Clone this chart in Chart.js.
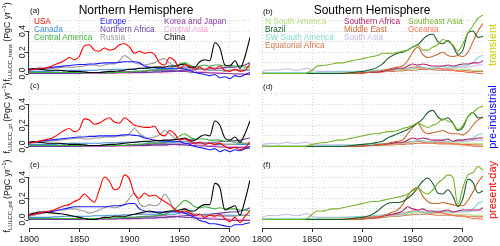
<!DOCTYPE html>
<html lang="en">
<head>
<meta charset="UTF-8" />
<title>LULCC emissions by region</title>
<script src="https://cdn.jsdelivr.net/npm/chart.js"></script>
<style>
  body { margin: 0; width: 500px; height: 246px; position: relative; overflow: hidden; background: #fff; font-family: "Liberation Sans", Arial, sans-serif; color: #000; }
  canvas { position: absolute; }
  .txt { position: absolute; white-space: nowrap; line-height: 1; transform: translate(-50%, -50%); }
  .leg { position: absolute; white-space: nowrap; font-size: 8.2px; line-height: 1; transform: translateY(-50%); }
  .rot { position: absolute; white-space: nowrap; line-height: 1; transform: translate(-50%, -50%) rotate(-90deg); }
  .ytitle { font-size: 8.8px; color: #111; }
  .ytitle sub { font-size: 5.8px; vertical-align: -2px; }
  .ytitle sup { font-size: 5.8px; vertical-align: 4px; }
  .plab { position: absolute; font-size: 8px; line-height: 1; transform: translateY(-50%); color: #111; }
</style>
</head>
<body>
<canvas id="ca" width="252" height="84" style="left:0;top:0"></canvas>
<canvas id="cb" width="248" height="84" style="left:252px;top:0"></canvas>
<canvas id="cc" width="252" height="73" style="left:0;top:84px"></canvas>
<canvas id="cd" width="248" height="73" style="left:252px;top:84px"></canvas>
<canvas id="ce" width="252" height="89" style="left:0;top:157px"></canvas>
<canvas id="cf" width="248" height="89" style="left:252px;top:157px"></canvas>

<div class="txt" style="left:136px;top:10px;font-size:12px">Northern Hemisphere</div>
<div class="txt" style="left:372px;top:10px;font-size:12px">Southern Hemisphere</div>

<div class="plab" style="left:30px;top:11px">(a)</div>
<div class="plab" style="left:263px;top:12px">(b)</div>
<div class="plab" style="left:30px;top:86px">(c)</div>
<div class="plab" style="left:263px;top:87px">(d)</div>
<div class="plab" style="left:30px;top:165px">(e)</div>
<div class="plab" style="left:263px;top:165px">(f)</div>

<!-- legend, northern -->
<div class="leg" style="left:34px;top:22px;color:#ff0000">USA</div>
<div class="leg" style="left:34px;top:30px;color:#3f8fd2">Canada</div>
<div class="leg" style="left:34px;top:38px;color:#3fae3f">Central America</div>
<div class="leg" style="left:100px;top:22px;color:#1a1aff">Europe</div>
<div class="leg" style="left:100px;top:30px;color:#6a3c9c">Northern Africa</div>
<div class="leg" style="left:100px;top:38px;color:#9a9a9a">Russia</div>
<div class="leg" style="left:164px;top:22px;color:#8c3aa0">Korea and Japan</div>
<div class="leg" style="left:164px;top:30px;color:#f29fd8">Central Asia</div>
<div class="leg" style="left:164px;top:38px;color:#000000">China</div>
<!-- legend, southern -->
<div class="leg" style="left:265px;top:22px;color:#b3de7d">N South America</div>
<div class="leg" style="left:265px;top:30px;color:#1e5e2c">Brazil</div>
<div class="leg" style="left:265px;top:38px;color:#84d8cc">SW South America</div>
<div class="leg" style="left:265px;top:46px;color:#cf7852">Equatorial Africa</div>
<div class="leg" style="left:344px;top:22px;color:#b3206a">Southern Africa</div>
<div class="leg" style="left:344px;top:30px;color:#c8672f">Middle East</div>
<div class="leg" style="left:344px;top:38px;color:#c8b6e6">South Asia</div>
<div class="leg" style="left:408px;top:22px;color:#78b32e">Southeast Asia</div>
<div class="leg" style="left:408px;top:30px;color:#ff7552">Oceania</div>

<!-- y titles -->
<div class="rot ytitle" style="left:8px;top:42px">f<sub>LULCC_trans</sub> (PgC yr<sup>−1</sup>)</div>
<div class="rot ytitle" style="left:8px;top:118px">f<sub>LULCC_pi</sub> (PgC yr<sup>−1</sup>)</div>
<div class="rot ytitle" style="left:8px;top:196px">f<sub>LULCC_pd</sub> (PgC yr<sup>−1</sup>)</div>

<!-- side labels -->
<div class="rot" style="left:492px;top:45px;font-size:11px;color:#cdcd00">transient</div>
<div class="rot" style="left:492px;top:117px;font-size:11px;color:#0000ff">pre-industrial</div>
<div class="rot" style="left:492px;top:190px;font-size:11px;color:#ff0000">present-day</div>

<script>
// years of the samples
const years = [1800,1805,1810,1815,1820,1825,1830,1835,1840,1845,1850,1855,1860,1865,1870,1875,1880,1885,1890,1895,1900,1905,1910,1915,1920,1925,1930,1935,1940,1945,1950,1955,1960,1965,1970,1975,1980,1985,1990,1995,2000,2005,2010,2015,2020];

// Northern Hemisphere (a: transient, c: pre-industrial, e: present-day)
const usaA = [.03,.04,.05,.05,.06, .08,.10,.12,.15,.13, .16,.26,.27,.22,.21, .24,.22,.23,.27,.28, .25,.19,.21,.19,.20, .18,.10,.08,.15,.12, .05,.08,.07,.04,.06, .03,.06,.04,.07,.03, .02,.04,.02,.03,.09];
const usaC = [.03,.04,.05,.06,.07, .09,.12,.15,.17,.14, .16,.26,.25,.21,.22, .25,.27,.23,.22,.27, .24,.20,.19,.18,.18, .19,.12,.10,.15,.12, .06,.07,.05,.03,.04, .02,.03,.02,.03,.00, -.02,-.01,-.03,-.01,.04];
const usaE = [.04,.05,.06,.07,.08, .09,.11,.13,.14,.17, .19,.24,.20,.16,.28, .40,.36,.28,.30,.42, .38,.24,.20,.25,.22, .23,.20,.17,.14,.10, .07,.08,.06,.04,.05, .02,.04,.03,.05,.01, -.02,.02,-.03,.03,.08];

const eurA = [.04,.045,.05,.05,.055, .06,.065,.07,.075,.08, .085,.085,.09,.09,.095, .10,.10,.10,.105,.11, .11,.11,.10,.07,.06, .055,.05,.05,.05,.05, .05,.04,.03,.01,0, -.01,-.02,-.01,-.04,-.03, -.05,-.02,-.03,-.01,.01];
const eurC = [.04,.045,.05,.055,.06, .065,.07,.075,.08,.085, .09,.09,.095,.095,.10, .10,.10,.10,.105,.11, .11,.105,.10,.08,.07, .06,.055,.05,.05,.05, .045,.03,.02,0,-.01, -.02,-.03,-.02,-.05,-.03, -.05,-.03,-.04,-.02,0];
const eurE = [.04,.05,.06,.065,.07, .08,.09,.10,.11,.12, .12,.12,.12,.12,.12, .12,.125,.13,.13,.14, .15,.15,.10,.08,.07, .07,.07,.07,.07,.07, .07,.06,.04,.02,-.01, -.02,-.04,-.04,-.05,-.06, -.07,-.05,-.05,-.04,-.03];

const rusA = [.03,.035,.04,.04,.045, .05,.055,.06,.06,.06, .065,.07,.08,.08,.07, .08,.09,.09,.12,.17, .14,.10,.09,.08,.09, .10,.13,.14,.10,.07, .06,.05,.05,.04,.04, .04,.03,.03,.03,.02, .03,.03,.04,.04,.04];
const rusC = [.03,.035,.04,.045,.05, .055,.06,.065,.07,.075, .08,.07,.07,.08,.08, .09,.09,.09,.10,.10, .12,.17,.12,.09,.08, .09,.11,.15,.12,.08, .06,.07,.05,.04,.04, .04,.03,.03,.03,.02, .02,.02,.03,.03,.03];
const rusE = [.03,.04,.05,.06,.07, .08,.09,.09,.10,.10, .09,.08,.06,.07,.09, .11,.12,.11,.12,.14, .20,.25,.15,.12,.14, .13,.15,.24,.18,.08, .07,.10,.08,.05,.05, .04,.04,.04,.03,.03, .03,.03,.04,.04,.04];

const chnA = [.04,.045,.04,.035,.03, .03,.03,.025,.02,.02, .02,.015,.01,.01,.01, .015,.02,.02,.025,.03, .04,.04,.05,.05,.055, .06,.06,.06,.07,.07, .08,.09,.06,.06,.11, .13,.12,.29,.24,.08, .07,.12,.05,.16,.34];
const chnC = [.04,.045,.04,.035,.03, .03,.03,.025,.02,.02, .02,.015,.01,.01,.01, .015,.02,.02,.025,.03, .035,.04,.045,.05,.05, .055,.055,.06,.06,.065, .07,.08,.06,.06,.09, .11,.10,.24,.20,.08, .06,.09,.04,.12,.24];
const chnE = [.05,.06,.07,.07,.065, .06,.055,.05,.04,.03, .02,.01,0,0,.01, .02,.02,.03,.03,.03, .04,.05,.06,.07,.08, .07,.06,.07,.08,.08, .09,.10,.08,.08,.12, .14,.14,.34,.30,.09, .11,.13,.04,.18,.37];

const camA = [.01,.01,.01,.01,.01, .01,.01,.01,.01,.01, .01,.01,.01,.01,.01, .01,.01,.01,.01,.01, .015,.02,.02,.025,.03, .03,.035,.04,.05,.07, .09,.10,.08,.06,.07, .08,.07,.08,.08,.07, .08,.07,.07,.06,.06];
const camC = [.01,.01,.01,.01,.01, .01,.01,.01,.01,.01, .01,.01,.01,.01,.01, .01,.01,.01,.01,.01, .015,.02,.02,.025,.03, .03,.035,.04,.05,.07, .10,.12,.09,.07,.07, .07,.06,.06,.06,.05, .05,.04,.04,.03,.03];
const camE = [.01,.01,.01,.01,.01, .01,.01,.01,.01,.01, .01,.01,.01,.01,.01, .01,.01,.015,.015,.02, .02,.02,.025,.03,.03, .035,.04,.05,.07,.10, .14,.18,.16,.12,.11, .12,.11,.10,.11,.10, .10,.10,.09,.09,.08];

const canA = [.02,.02,.02,.02,.02, .025,.025,.03,.03,.03, .03,.03,.03,.03,.035, .035,.035,.04,.04,.04, .04,.045,.05,.05,.045, .04,.04,.04,.04,.04, .05,.06,.06,.05,.04, .04,.03,.03,.03,.03, .03,.03,.03,.03,.03];
const canC = [.02,.02,.02,.02,.02, .02,.025,.025,.03,.03, .03,.03,.03,.03,.03, .035,.035,.035,.04,.04, .04,.04,.045,.045,.04, .04,.04,.035,.035,.04, .045,.05,.05,.04,.03, .03,.03,.02,.02,.02, .02,.02,.02,.02,.02];
const canE = [.02,.02,.02,.02,.02, .025,.025,.03,.03,.03, .03,.03,.03,.035,.035, .035,.04,.04,.04,.045, .045,.05,.05,.05,.05, .05,.05,.05,.05,.05, .06,.07,.06,.05,.05, .04,.04,.04,.04,.04, .04,.04,.04,.04,.04];

const nafA = [0,0,0,0,0, 0,0,0,0,0, 0,.005,.005,.005,.005, .005,.005,.005,.01,.01, .01,.01,.01,.01,.01, .015,.015,.02,.02,.02, .025,.03,.03,.035,.04, .04,.045,.05,.05,.055, .06,.06,.07,.08,.10];
const nafC = [0,0,0,0,0, 0,0,0,0,0, 0,.005,.005,.005,.005, .005,.005,.005,.01,.01, .01,.01,.01,.01,.01, .015,.015,.015,.02,.02, .02,.025,.03,.03,.035, .035,.04,.04,.045,.05, .05,.055,.06,.07,.08];
const nafE = [0,0,0,0,0, 0,0,0,0,0, 0,.005,.005,.005,.005, .005,.005,.005,.01,.01, .01,.01,.01,.015,.015, .015,.02,.02,.025,.025, .03,.035,.04,.04,.045, .05,.05,.055,.06,.065, .07,.07,.08,.09,.11];

const kjpA = [.01,.01,.01,.01,.01, .01,.01,.01,.01,.01, .01,.01,.01,.01,.01, .01,.01,.01,.015,.015, .015,.02,.02,.02,.025, .025,.03,.03,.03,.025, .02,.02,.015,.01,.01, .01,.005,.005,0,0, 0,-.005,-.005,-.01,-.01];
const kjpC = [.01,.01,.01,.01,.01, .01,.01,.01,.01,.01, .01,.01,.01,.01,.01, .01,.01,.01,.012,.012, .015,.015,.02,.02,.02, .025,.025,.025,.02,.02, .015,.015,.01,.01,.005, .005,0,0,-.005,-.005, -.01,-.01,-.01,-.015,-.015];
const kjpE = [.01,.01,.01,.01,.01, .01,.01,.01,.01,.01, .01,.01,.01,.01,.01, .01,.01,.01,.015,.015, .02,.02,.025,.025,.03, .03,.035,.035,.03,.03, .025,.02,.02,.015,.01, .01,.005,.005,0,0, -.005,-.01,-.01,-.01,-.01];

const casA = [0,0,0,0,0, 0,0,0,0,0, 0,0,0,0,0, 0,0,0,0,0, 0,.005,.005,.005,.01, .01,.01,.01,.015,.02, .03,.05,.04,.02,.015, .015,.01,.01,.01,.005, 0,0,0,0,0];
const casC = [0,0,0,0,0, 0,0,0,0,0, 0,0,0,0,0, 0,0,0,0,0, 0,.005,.005,.005,.01, .01,.01,.01,.015,.02, .03,.045,.035,.02,.015, .01,.01,.01,.005,.005, 0,0,0,0,0];
const casE = [0,0,0,0,0, 0,0,0,0,0, 0,0,0,0,0, 0,0,0,0,0, 0,.005,.005,.01,.01, .01,.015,.015,.02,.025, .04,.06,.05,.03,.02, .02,.015,.015,.01,.01, .005,.005,0,0,0];

// Southern Hemisphere (b: transient, d: pre-industrial, f: present-day)
const seaB = [0,0,0,0,0, 0,0,0,0,.005, .03,.07,.075,.08,.09, .10,.10,.11,.12,.13, .14,.15,.16,.17,.19, .19,.19,.20,.21,.22, .25,.27,.22,.22,.25, .27,.32,.30,.27,.21, .28,.38,.45,.52,.55];
const seaD = [0,0,0,0,0, 0,0,0,0,.005, .02,.03,.035,.04,.05, .06,.06,.07,.08,.09, .10,.11,.12,.12,.13, .14,.14,.15,.17,.18, .20,.22,.20,.18,.20, .22,.26,.24,.22,.16, .20,.28,.32,.36,.38];
const seaF = [0,0,0,0,0, 0,0,0,0,.01, .05,.08,.08,.09,.10, .10,.11,.12,.13,.14, .15,.16,.17,.17,.18, .19,.20,.21,.22,.24, .27,.30,.26,.24,.28, .34,.38,.42,.40,.14, .30,.42,.44,.50,.46];

const brzB = [0,0,0,0,0, 0,0,0,0,0, 0,0,0,0,0, 0,0,.005,.01,.015, .02,.03,.04,.06,.09, .14,.17,.19,.20,.22, .25,.27,.32,.36,.37, .30,.28,.31,.26,.18, .22,.38,.40,.34,.35];
const brzD = [0,0,0,0,0, 0,0,0,0,0, 0,0,0,0,0, 0,0,.005,.01,.015, .02,.025,.03,.04,.05, .08,.10,.12,.14,.16, .19,.22,.26,.32,.34, .28,.25,.27,.22,.15, .18,.28,.32,.27,.27];
const brzF = [0,0,0,0,0, 0,0,0,0,0, 0,0,0,0,0, 0,0,.005,.01,.015, .02,.03,.05,.08,.12, .15,.16,.16,.17,.20, .24,.30,.36,.39,.34, .25,.24,.28,.22,.12, .20,.38,.35,.25,.27];

const mesB = [0,0,0,0,0, 0,0,0,0,0, 0,0,0,0,0, 0,0,0,0,0, .005,.01,.015,.02,.03, .04,.05,.06,.07,.12, .20,.25,.18,.15,.16, .18,.20,.17,.16,.17, .16,.20,.30,.40,.47];
const mesD = [0,0,0,0,0, 0,0,0,0,0, 0,0,0,0,0, 0,0,0,0,0, .005,.01,.01,.015,.02, .03,.04,.05,.06,.12, .18,.22,.15,.12,.13, .14,.15,.13,.12,.12, .11,.14,.20,.25,.28];
const mesF = [0,0,0,0,0, 0,0,0,0,0, 0,0,0,0,0, 0,0,0,0,0, .005,.01,.015,.02,.03, .05,.07,.09,.14,.22, .28,.30,.22,.17,.15, .15,.16,.15,.14,.13, .13,.18,.26,.35,.41];

const swsB = [.01,.01,.01,.01,.01, .01,.01,.01,.01,.01, .01,.01,.012,.012,.014, .015,.015,.016,.018,.02, .02,.022,.025,.03,.03, .035,.04,.04,.045,.05, .05,.07,.06,.05,.05, .06,.07,.06,.06,.07, .07,.08,.10,.15,.17];
const swsD = [.005,.005,.005,.005,.005, .005,.005,.005,.005,.005, .005,.005,.008,.008,.01, .01,.012,.012,.014,.015, .015,.018,.02,.025,.025, .03,.035,.035,.04,.045, .045,.06,.055,.045,.045, .05,.06,.05,.05,.06, .06,.06,.08,.11,.12];
const swsF = [.01,.01,.01,.01,.01, .01,.01,.01,.01,.01, .01,.012,.014,.015,.016, .018,.02,.022,.025,.028, .03,.03,.035,.04,.045, .05,.05,.055,.06,.065, .07,.08,.07,.06,.07, .08,.08,.07,.07,.08, .08,.08,.10,.15,.17];

const safB = [0,0,0,0,0, 0,0,0,0,0, 0,0,0,0,0, 0,0,0,0,0, .005,.01,.01,.015,.02, .03,.04,.05,.05,.07, .09,.08,.09,.08,.07, .07,.07,.08,.07,.08, .09,.09,.10,.10,.12];
const safD = [0,0,0,0,0, 0,0,0,0,0, 0,0,0,0,0, 0,0,0,0,0, .005,.01,.01,.015,.02, .025,.03,.04,.04,.06, .08,.07,.08,.07,.06, .06,.06,.07,.05,.06, .06,.07,.07,.08,.08];
const safF = [0,0,0,0,0, 0,0,0,0,0, 0,0,0,0,0, 0,0,0,0,0, .005,.01,.015,.02,.03, .04,.05,.06,.08,.12, .10,.09,.10,.08,.08, .07,.08,.09,.07,.08, .09,.09,.09,.09,.11];

const sasB = [.02,.03,.035,.03,.04, .045,.035,.03,.04,.05, .03,.02,.02,.02,.02, .02,.02,.02,.02,.02, .02,.02,.025,.03,.03, .03,.03,.035,.04,.045, .05,.06,.05,.05,.05, .05,.05,.05,.05,.06, .06,.06,.07,.08,.08];
const sasD = [.02,.025,.03,.025,.03, .04,.03,.03,.035,.04, .02,.015,.015,.015,.015, .015,.015,.015,.015,.015, .015,.02,.02,.025,.025, .025,.025,.03,.035,.04, .045,.05,.045,.045,.045, .045,.045,.045,.045,.05, .05,.05,.06,.06,.06];
const sasF = [.02,.035,.04,.035,.045, .05,.04,.035,.045,.055, .03,.02,.02,.02,.02, .02,.02,.02,.02,.02, .025,.025,.03,.03,.035, .035,.04,.045,.05,.06, .08,.08,.07,.07,.07, .07,.07,.07,.07,.07, .07,.07,.08,.08,.08];

const nsaB = [.005,.005,.005,.005,.005, .005,.005,.005,.005,.005, .005,.005,.005,.005,.005, .005,.005,.005,.005,.005, .01,.01,.015,.02,.02, .025,.03,.03,.035,.04, .045,.05,.05,.05,.05, .05,.05,.045,.04,.04, .04,.04,.03,.03,.03];
const nsaD = [.005,.005,.005,.005,.005, .005,.005,.005,.005,.005, .005,.005,.005,.005,.005, .005,.005,.005,.005,.005, .005,.01,.01,.015,.015, .02,.025,.025,.03,.035, .04,.045,.045,.045,.045, .045,.04,.04,.035,.035, .035,.03,.03,.025,.025];
const nsaF = [.005,.005,.005,.005,.005, .005,.005,.005,.005,.005, .005,.005,.005,.005,.005, .005,.005,.005,.005,.005, .01,.015,.02,.025,.03, .03,.035,.04,.045,.05, .06,.07,.06,.06,.06, .06,.06,.055,.05,.05, .05,.05,.04,.04,.04];

const eqaB = [.005,.005,.005,.005,.005, .005,.005,.005,.005,.005, .005,.005,.005,.005,.005, .005,.005,.005,.005,.005, .005,.01,.01,.01,.015, .02,.02,.025,.025,.03, .03,.035,.04,.04,.035, .03,.03,.03,.03,.03, .03,.025,.02,.02,.02];
const eqaD = [.005,.005,.005,.005,.005, .005,.005,.005,.005,.005, .005,.005,.005,.005,.005, .005,.005,.005,.005,.005, .005,.005,.01,.01,.01, .015,.015,.02,.02,.025, .025,.03,.03,.03,.03, .025,.025,.025,.025,.025, .02,.02,.015,.015,.015];
const eqaF = [.005,.005,.005,.005,.005, .005,.005,.005,.005,.005, .005,.005,.005,.005,.005, .005,.005,.005,.005,.005, .01,.01,.015,.015,.02, .025,.03,.03,.035,.04, .045,.05,.05,.05,.045, .04,.04,.04,.04,.035, .035,.03,.03,.025,.025];

const oceB = [0,0,0,0,0, 0,0,0,0,0, 0,0,0,0,0, 0,.005,.005,.01,.01, .01,.015,.02,.02,.025, .03,.03,.04,.04,.05, .06,.06,.05,.04,.04, .05,.04,.04,.03,.02, .02,.01,.01,0,0];
const oceD = [0,0,0,0,0, 0,0,0,0,0, 0,0,0,0,0, 0,.005,.005,.005,.01, .01,.01,.015,.015,.02, .025,.025,.03,.035,.04, .05,.05,.04,.035,.035, .04,.035,.03,.025,.02, .015,.01,.005,0,0];
const oceF = [0,0,0,0,0, 0,0,0,0,0, 0,0,0,0,0, 0,.005,.01,.01,.015, .02,.02,.025,.03,.035, .04,.045,.05,.06,.07, .08,.08,.07,.06,.06, .07,.06,.05,.04,.03, .03,.02,.01,.01,0];

const colN = { usa: '#ff0000', eur: '#1a1aff', chn: '#000000', rus: '#9a9a9a', cam: '#3fae3f', can: '#3f8fd2', naf: '#6a3c9c', kjp: '#8c3aa0', cas: '#f29fd8' };
const colS = { sea: '#78b32e', brz: '#1e5e2c', mes: '#c8672f', sws: '#84d8cc', saf: '#b3206a', sas: '#c8b6e6', nsa: '#b3de7d', eqa: '#cf7852', oce: '#ff7552' };

const font = '"Liberation Sans", Arial, sans-serif';

// R style axes: y axis only from 0.0 to 0.4 with rotated labels, x axis only to the last tick
const rAxes = {
    id: 'rAxes',
    afterDraw(chart, args, opts) {
        const { ctx, chartArea } = chart;
        const x = chart.scales.x, y = chart.scales.y;
        ctx.save();
        ctx.strokeStyle = '#333';
        ctx.lineWidth = 1;
        if (opts.yAxis) {
            const ax = Math.round(chartArea.left) - 0.5;
            const shown = y.ticks.filter(t => Math.round(t.value * 10) % 2 === 0 && t.value < 0.45);
            ctx.beginPath();
            ctx.moveTo(ax, y.getPixelForValue(shown[0].value));
            ctx.lineTo(ax, y.getPixelForValue(shown[shown.length - 1].value));
            shown.forEach(t => {
                const py = Math.round(y.getPixelForValue(t.value)) + 0.5;
                ctx.moveTo(ax, py);
                ctx.lineTo(ax - 3, py);
            });
            ctx.stroke();
            ctx.fillStyle = '#222';
            ctx.font = '8.5px ' + font;
            ctx.textAlign = 'center';
            ctx.textBaseline = 'alphabetic';
            shown.forEach(t => {
                ctx.save();
                ctx.translate(ax - 4, y.getPixelForValue(t.value));
                ctx.rotate(-Math.PI / 2);
                ctx.fillText(t.value.toFixed(1), 0, 0);
                ctx.restore();
            });
        }
        if (opts.xAxis) {
            const ay = Math.round(chartArea.bottom) + 0.5;
            ctx.beginPath();
            ctx.moveTo(x.getPixelForValue(x.ticks[0].value), ay);
            ctx.lineTo(x.getPixelForValue(x.ticks[x.ticks.length - 1].value), ay);
            ctx.stroke();
        }
        ctx.restore();
    }
};

function makeChart(id, series, left, row) {
    const bottom = row === 3;
    const pad = {
        top: row === 1 ? 14 : 3,
        bottom: bottom ? 0 : 2,
        left: left ? 0 : 10,
        right: left ? 2 : 17
    };
    return new Chart(document.getElementById(id), {
        type: 'line',
        data: {
            datasets: series.map(s => ({
                data: years.map((yr, i) => ({ x: yr, y: s.values[i] })),
                borderColor: s.color,
                borderWidth: 1.1,
                pointRadius: 0,
                cubicInterpolationMode: 'monotone',
                fill: false
            }))
        },
        options: {
            responsive: false,
            animation: false,
            events: [],
            layout: { padding: pad },
            plugins: {
                legend: { display: false },
                tooltip: { enabled: false },
                rAxes: { yAxis: left, xAxis: bottom }
            },
            scales: {
                x: {
                    type: 'linear',
                    min: 1800,
                    max: 2020,
                    afterFit: s => { s.height = bottom ? 18 : 0; s.paddingLeft = 0; s.paddingRight = 0; },
                    border: { display: false, dash: [1, 2] },
                    grid: {
                        color: '#d6d6d6',
                        drawTicks: bottom,
                        tickLength: 4,
                        tickColor: c => (c.tick && c.tick.value <= 2000) ? '#333' : 'rgba(0,0,0,0)'
                    },
                    ticks: {
                        display: bottom,
                        stepSize: 50,
                        includeBounds: false,
                        autoSkip: false,
                        maxRotation: 0,
                        padding: 2,
                        color: '#222',
                        font: { family: font, size: 9 },
                        callback: v => String(v)
                    }
                },
                y: {
                    min: -0.08,
                    max: 0.56,
                    afterFit: s => { s.width = left ? 29 : 0; },
                    border: { display: false, dash: [1, 2] },
                    grid: { color: '#d6d6d6', drawTicks: false },
                    ticks: { display: false, stepSize: 0.1, includeBounds: false, autoSkip: false }
                }
            }
        },
        plugins: [rAxes]
    });
}

function north(usa, eur, chn, rus, cam, can, naf, kjp, cas) {
    return [
        { values: usa, color: colN.usa }, { values: chn, color: colN.chn }, { values: eur, color: colN.eur },
        { values: rus, color: colN.rus }, { values: cam, color: colN.cam }, { values: can, color: colN.can },
        { values: naf, color: colN.naf }, { values: kjp, color: colN.kjp }, { values: cas, color: colN.cas }
    ];
}
function south(sea, brz, mes, sws, saf, sas, nsa, eqa, oce) {
    return [
        { values: sea, color: colS.sea }, { values: brz, color: colS.brz }, { values: mes, color: colS.mes },
        { values: saf, color: colS.saf }, { values: sws, color: colS.sws }, { values: oce, color: colS.oce },
        { values: sas, color: colS.sas }, { values: nsa, color: colS.nsa }, { values: eqa, color: colS.eqa }
    ];
}

makeChart('ca', north(usaA, eurA, chnA, rusA, camA, canA, nafA, kjpA, casA), true, 1);
makeChart('cc', north(usaC, eurC, chnC, rusC, camC, canC, nafC, kjpC, casC), true, 2);
makeChart('ce', north(usaE, eurE, chnE, rusE, camE, canE, nafE, kjpE, casE), true, 3);
makeChart('cb', south(seaB, brzB, mesB, swsB, safB, sasB, nsaB, eqaB, oceB), false, 1);
makeChart('cd', south(seaD, brzD, mesD, swsD, safD, sasD, nsaD, eqaD, oceD), false, 2);
makeChart('cf', south(seaF, brzF, mesF, swsF, safF, sasF, nsaF, eqaF, oceF), false, 3);
</script>
</body>
</html>
